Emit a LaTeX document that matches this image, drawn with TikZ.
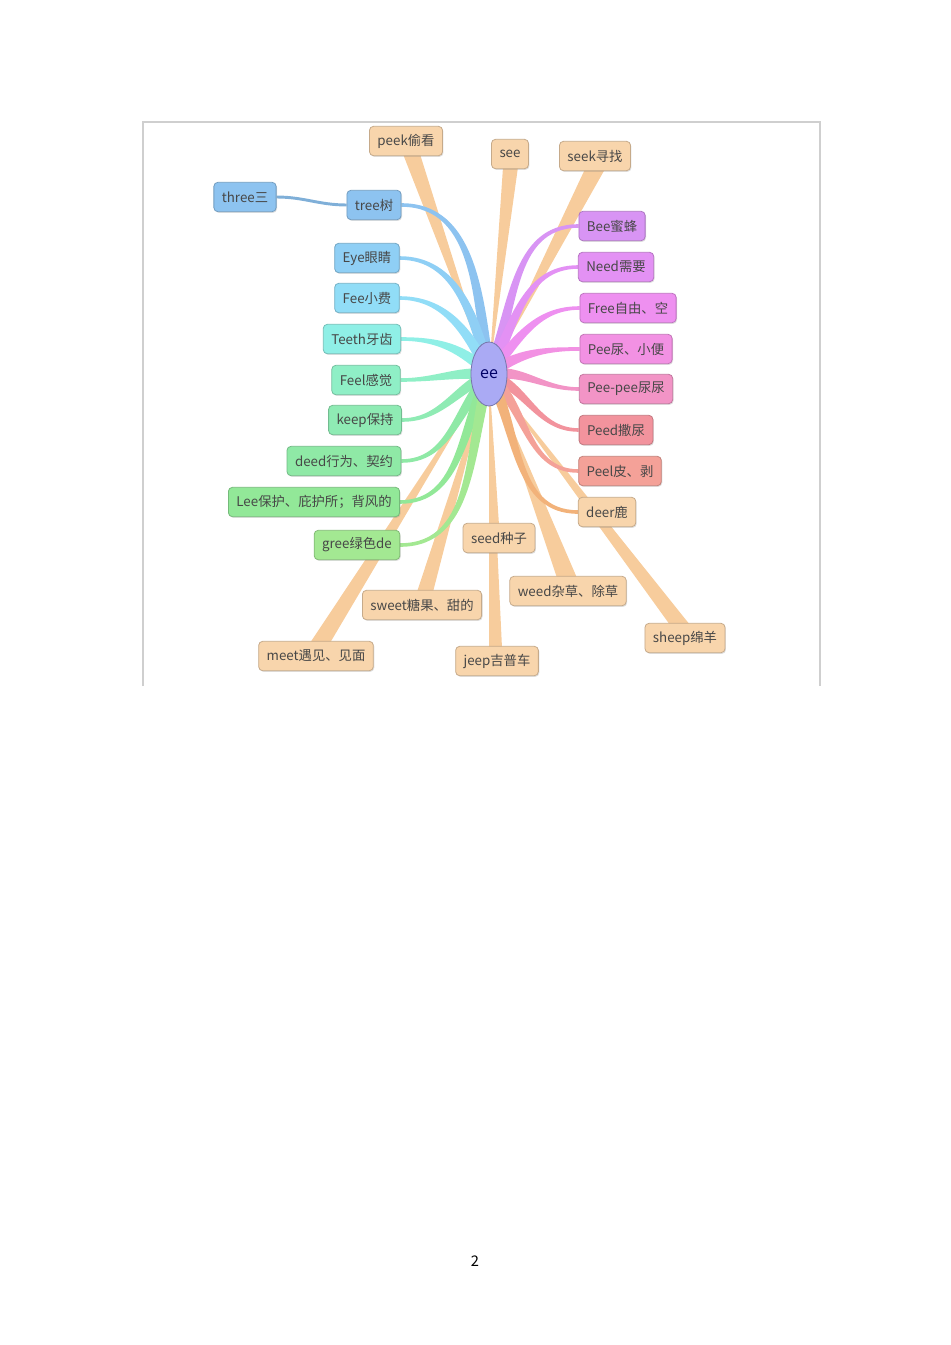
\documentclass[tikz,border=0pt]{standalone}
\usepackage{fontspec}
\setmainfont{Noto Sans CJK SC}
\usetikzlibrary{positioning, calc, shapes.geometric, shadows}
\pgfdeclarelayer{background}
\pgfsetlayers{background,main}

\definecolor{cPeach}{HTML}{F8D5AC}
\definecolor{cWedge}{HTML}{F7CC9C}
\definecolor{cDeerLine}{HTML}{F2B27A}
\definecolor{cTree}{HTML}{8DC3F0}
\definecolor{cEye}{HTML}{8FCFF5}
\definecolor{cFee}{HTML}{91DDF7}
\definecolor{cTeeth}{HTML}{8FEFE6}
\definecolor{cFeel}{HTML}{8FEFC6}
\definecolor{cKeep}{HTML}{8FEBB4}
\definecolor{cDeed}{HTML}{8FE9A6}
\definecolor{cLee}{HTML}{92E898}
\definecolor{cGree}{HTML}{A3E892}
\definecolor{cBee}{HTML}{D894F4}
\definecolor{cNeed}{HTML}{E391F4}
\definecolor{cFree}{HTML}{EE90F0}
\definecolor{cPee}{HTML}{F291E3}
\definecolor{cPeepee}{HTML}{F294C6}
\definecolor{cPeed}{HTML}{F2939D}
\definecolor{cPeel}{HTML}{F4A198}
\definecolor{cCore}{HTML}{AAAAF4}
\definecolor{cFrame}{HTML}{CFCFCF}

\begin{document}
\begin{tikzpicture}[
	x=0.75pt, y=0.75pt,
	word/.style={rectangle, rounded corners=3pt, fill=#1, draw=#1!80!black, line width=0.6pt,
		minimum height=22pt, inner xsep=6pt, text=black!72, font=\fontsize{10}{12}\selectfont,
		drop shadow={shadow xshift=0.7pt, shadow yshift=-0.9pt, opacity=0.25}},
	core/.style={ellipse, fill=cCore, draw=cCore!70!black, line width=0.6pt, minimum width=27pt,
		minimum height=48pt, inner sep=0pt, text=black!60!blue, font=\fontsize{12}{14}\selectfont},
	wedge/.style={fill=cWedge},
	frame/.style={draw=cFrame, line width=1.1pt}
	]
	\useasboundingbox (0,0) rectangle (950,-1345);
	
	% page frame
	\draw[frame] (143,-686) -- (143,-122) -- (820,-122) -- (820,-686);
	
	\node[core] (ee) at (489,-374) {ee};
	
	% top and bottom words
	\node[word=cPeach] (peek) at (406,-141) {peek偷看};
	\node[word=cPeach] (see) at (510,-154) {see};
	\node[word=cPeach] (seek) at (595,-156) {seek寻找};
	\node[word=cPeach] (seed) at (499,-538) {seed种子};
	\node[word=cPeach] (weed) at (568,-591) {weed杂草、除草};
	\node[word=cPeach] (sweet) at (422,-605) {sweet糖果、甜的};
	\node[word=cPeach] (meet) at (316,-656) {meet遇见、见面};
	\node[word=cPeach] (jeep) at (497,-661) {jeep吉普车};
	\node[word=cPeach] (sheep) at (685,-638) {sheep绵羊};
	
	% left words
	\node[word=cTree] (three) at (245,-197) {three三};
	\node[word=cTree] (tree) at (374,-205) {tree树};
	\node[word=cEye] (eye) at (367,-258) {Eye眼睛};
	\node[word=cFee] (fee) at (367,-298) {Fee小费};
	\node[word=cTeeth] (teeth) at (362,-339) {Teeth牙齿};
	\node[word=cFeel] (feel) at (366,-380) {Feel感觉};
	\node[word=cKeep] (keep) at (365,-420) {keep保持};
	\node[word=cDeed] (deed) at (344,-461) {deed行为、契约};
	\node[word=cLee] (lee) at (314,-502) {Lee保护、庇护所；背风的};
	\node[word=cGree] (gree) at (357,-545) {gree绿色de};
	
	% right words
	\node[word=cBee] (bee) at (612,-226) {Bee蜜蜂};
	\node[word=cNeed] (need) at (616,-267) {Need需要};
	\node[word=cFree] (free) at (628,-308) {Free自由、空};
	\node[word=cPee] (pee) at (626,-349) {Pee尿、小便};
	\node[word=cPeepee] (peepee) at (626,-389) {Pee-pee尿尿};
	\node[word=cPeed] (peed) at (616,-430) {Peed撒尿};
	\node[word=cPeel] (peel) at (620,-471) {Peel皮、剥};
	\node[word=cPeach] (deer) at (607,-512) {deer鹿};
	
	\node[font=\fontsize{11}{13}\selectfont] (pagenum) at (475,-1261) {2};
	
	\begin{pgfonlayer}{background}
		% straight tapered spokes
		\fill[wedge] (ee.center) -- ($(peek.south)+(-3,2)$) -- ($(peek.south)+(14,2)$) -- cycle;
		\fill[wedge] (ee.center) -- ($(see.south)+(-7,2)$) -- ($(see.south)+(8,2)$) -- cycle;
		\fill[wedge] (ee.center) -- ($(seek.south)+(-10,2)$) -- ($(seek.south)+(10,2)$) -- cycle;
		\fill[wedge] (ee.center) -- ($(seed.north)+(-8,-2)$) -- ($(seed.north)+(0,-2)$) -- cycle;
		\fill[wedge] (ee.center) -- ($(jeep.north)+(-8,-2)$) -- ($(jeep.north)+(5,-2)$) -- cycle;
		\fill[wedge] (ee.center) -- ($(weed.north)+(-11,-2)$) -- ($(weed.north)+(9,-2)$) -- cycle;
		\fill[wedge] (ee.center) -- ($(sweet.north)+(-5,-2)$) -- ($(sweet.north)+(11,-2)$) -- cycle;
		\fill[wedge] (ee.center) -- ($(meet.north)+(-6,-2)$) -- ($(meet.north)+(14,-2)$) -- cycle;
		\fill[wedge] (ee.center) -- ($(sheep.north)+(-15,-2)$) -- ($(sheep.north)+(5,-2)$) -- cycle;
		
		% curved branches, left side
		\foreach \n/\c/\a in {tree/cTree/98, eye/cEye/104, fee/cFee/116, teeth/cTeeth/136,
			feel/cFeel/176, keep/cKeep/205, deed/cDeed/228, lee/cLee/243, gree/cGree/254}
		\fill[\c] ($(ee.center)+({\a+90}:5.5)$) to[out=\a,in=0] ($(\n.east)+(0,-1.8)$)
			-- ($(\n.east)+(0,1.8)$) to[out=0,in=\a] ($(ee.center)+({\a-90}:5.5)$) -- cycle;
		
		% curved branches, right side
		\foreach \n/\c/\a in {bee/cBee/68, need/cNeed/62, free/cFree/50, pee/cPee/35,
			peepee/cPeepee/8, peed/cPeed/-20, peel/cPeel/-42, deer/cDeerLine/-62}
		\fill[\c] ($(ee.center)+({\a+90}:5.5)$) to[out=\a,in=180] ($(\n.west)+(0,1.8)$)
			-- ($(\n.west)+(0,-1.8)$) to[out=180,in=\a] ($(ee.center)+({\a-90}:5.5)$) -- cycle;
		
		\draw[cTree!90!black, line width=2.2pt] (three.east) to[out=0,in=180] (tree.west);
	\end{pgfonlayer}
\end{tikzpicture}
\end{document}
